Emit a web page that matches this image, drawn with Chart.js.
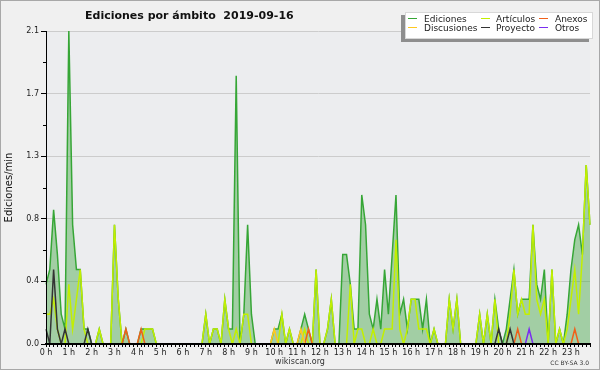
<!DOCTYPE html>
<html><head><meta charset="utf-8">
<script src="https://cdn.jsdelivr.net/npm/chart.js@4"></script>
<style>html,body{margin:0;padding:0;background:#f0f0f0}canvas{display:block}</style>
</head><body>
<canvas id="c" width="600" height="370"></canvas>
<script>
const titleText = 'Ediciones por ámbito  2019-09-16';
const yAxisTitle = 'Ediciones/min';
const hourLabels = ['0 h','1 h','2 h','3 h','4 h','5 h','6 h','7 h','8 h','9 h','10 h','11 h',
  '12 h','13 h','14 h','15 h','16 h','17 h','18 h','19 h','20 h','21 h','22 h','23 h'];
const yTickValues = [0, 0.42, 0.84, 1.26, 1.68, 2.1];
const seriesNames = ['Ediciones','Artículos','Anexos','Discusiones','Proyecto','Otros'];

// 10-minute slots, values in edits per minute
const ediciones = [
  0.4,0.5,0.9,0.6,0.2,0.1, 2.1,0.8,0.5,0.5,0.1,0.1,
  0,0,0.1,0,0,0, 0.8,0.3,0,0.1,0,0,
  0,0.1,0.1,0.1,0.1,0, 0,0,0,0,0,0,
  0,0,0,0,0,0, 0.2,0,0.1,0.1,0,0.3,
  0.1,0.1,1.8,0,0.2,0.8, 0.2,0,0,0,0,0,
  0.1,0.1,0.2,0,0.1,0, 0,0.1,0.2,0.1,0,0.5,
  0,0,0.1,0.3,0,0, 0.6,0.6,0.4,0.1,0.1,1.0,
  0.8,0.2,0.1,0.3,0.1,0.5, 0.2,0.6,1.0,0.2,0.3,0.1,
  0.3,0.3,0.3,0.1,0.3,0, 0.1,0,0,0,0.3,0.1,
  0.3,0,0,0,0,0, 0.2,0,0.2,0,0.3,0.1,
  0,0.1,0.3,0.5,0.2,0.3, 0.3,0.3,0.8,0.4,0.3,0.5,
  0,0.5,0,0.1,0,0.2, 0.5,0.7,0.8,0.6,1.2,0.8
];
const articulos = [
  0.2,0.2,0.3,0.1,0,0, 0.4,0.1,0.3,0.5,0.1,0,
  0,0,0.1,0,0,0, 0.8,0.3,0,0,0,0,
  0,0,0.1,0.1,0.1,0, 0,0,0,0,0,0,
  0,0,0,0,0,0, 0.2,0,0.1,0.1,0,0.3,
  0.1,0,0.1,0,0.2,0.2, 0,0,0,0,0,0,
  0,0,0.2,0,0.1,0, 0,0,0.1,0,0,0.5,
  0,0,0.1,0.3,0,0, 0,0,0.4,0,0.1,0.1,
  0,0,0.1,0,0,0.1, 0.1,0.1,0.7,0.1,0,0.1,
  0.3,0.3,0.1,0.1,0.1,0, 0.1,0,0,0,0.3,0.1,
  0.3,0,0,0,0,0, 0.2,0,0.2,0,0.3,0,
  0,0,0.2,0.5,0.2,0.3, 0.2,0.2,0.8,0.3,0.2,0.3,
  0,0.5,0,0.1,0,0.1, 0.3,0.5,0.2,0.6,1.2,0.8
];
const anexos = [
  0,0,0,0,0,0, 0,0,0,0,0,0,
  0,0,0,0,0,0, 0,0,0,0.1,0,0,
  0,0.1,0,0,0,0, 0,0,0,0,0,0,
  0,0,0,0,0,0, 0,0,0,0,0,0,
  0,0,0,0,0,0, 0,0,0,0,0,0,
  0,0,0,0,0,0, 0,0,0,0.1,0,0,
  0,0,0,0,0,0, 0,0,0,0,0,0,
  0,0,0,0,0,0, 0,0,0,0,0,0,
  0,0,0,0,0,0, 0,0,0,0,0,0,
  0,0,0,0,0,0, 0,0,0,0,0,0,
  0,0,0,0,0.1,0, 0,0,0,0,0,0,
  0,0,0,0,0,0, 0,0.1,0,0,0,0
];
const discusiones = [
  0,0,0,0,0,0, 0,0,0,0,0,0,
  0,0,0,0,0,0, 0,0,0,0,0,0,
  0,0,0,0,0,0, 0,0,0,0,0,0,
  0,0,0,0,0,0, 0,0,0,0,0,0,
  0,0,0,0,0,0, 0,0,0,0,0,0,
  0.1,0,0,0,0,0, 0,0.1,0,0,0,0,
  0,0,0,0,0,0, 0,0,0,0,0,0,
  0,0,0,0,0,0, 0,0,0,0,0,0,
  0,0,0,0,0,0, 0,0,0,0,0,0,
  0,0,0,0,0,0, 0,0,0,0,0,0,
  0,0,0,0,0,0, 0,0,0,0,0,0,
  0,0,0,0,0,0, 0,0,0,0,0,0
];
const proyecto = [
  0.1,0,0.5,0.1,0,0.1, 0,0,0,0,0,0.1,
  0,0,0,0,0,0, 0,0,0,0,0,0,
  0,0,0,0,0,0, 0,0,0,0,0,0,
  0,0,0,0,0,0, 0,0,0,0,0,0,
  0,0,0,0,0,0, 0,0,0,0,0,0,
  0,0,0,0,0,0, 0,0,0,0,0,0,
  0,0,0,0,0,0, 0,0,0,0,0,0,
  0,0,0,0,0,0, 0,0,0,0,0,0,
  0,0,0,0,0,0, 0,0,0,0,0,0,
  0,0,0,0,0,0, 0,0,0,0,0,0.1,
  0,0,0.1,0,0,0, 0,0,0,0,0,0,
  0,0,0,0,0,0, 0,0,0,0,0,0
];
const otros = [
  0,0,0,0,0,0, 0,0,0,0,0,0,
  0,0,0,0,0,0, 0,0,0,0,0,0,
  0,0,0,0,0,0, 0,0,0,0,0,0,
  0,0,0,0,0,0, 0,0,0,0,0,0,
  0,0,0,0,0,0, 0,0,0,0,0,0,
  0,0,0,0,0,0, 0,0,0,0,0,0,
  0,0,0,0,0,0, 0,0,0,0,0,0,
  0,0,0,0,0,0, 0,0,0,0,0,0,
  0,0,0,0,0,0, 0,0,0,0,0,0,
  0,0,0,0,0,0, 0,0,0,0,0,0,
  0,0,0,0,0,0, 0,0.1,0,0,0,0,
  0,0,0,0,0,0, 0,0,0,0,0,0
];

// category slots (one per 10 minutes)
const slots = [];
hourLabels.forEach(h => { for (let m = 0; m < 6; m++) slots.push(h + ':' + m + '0'); });

const colors = ['#36a636','#c2ef00','#f0601a','#ffc820','#333333','#7a2ef0'];
const seriesData = [ediciones, articulos, anexos, discusiones, proyecto, otros];

const FONT = '"DejaVu Sans", sans-serif';
Chart.defaults.font.family = FONT;
Chart.defaults.font.size = 8;
Chart.defaults.color = '#222';

const decor = {
  id: 'decor',
  beforeDraw(chart) {
    const {ctx, chartArea: a} = chart;
    ctx.save();
    ctx.fillStyle = '#f0f0f0';
    ctx.fillRect(0, 0, chart.width, chart.height);
    ctx.fillStyle = '#ecedef';
    ctx.fillRect(a.left, a.top, a.right - a.left, a.bottom - a.top);
    ctx.restore();
  },
  afterDraw(chart) {
    const ctx = chart.ctx;
    const ys = chart.scales.y;
    ctx.save();
    // minor ticks on y axis
    ctx.strokeStyle = '#000';
    ctx.lineWidth = 1;
    for (let k = 0; k < yTickValues.length - 1; k++) {
      const mid = (yTickValues[k] + yTickValues[k + 1]) / 2;
      const py = Math.round(ys.getPixelForValue(mid)) + 0.5;
      ctx.beginPath(); ctx.moveTo(ys.right - 3, py); ctx.lineTo(ys.right, py); ctx.stroke();
    }
    // title
    ctx.fillStyle = '#111';
    ctx.font = 'bold 11px ' + FONT;
    ctx.textAlign = 'left';
    ctx.textBaseline = 'alphabetic';
    ctx.fillText(titleText, 85, 18.5);
    // legend box with shadow
    ctx.fillStyle = '#8e8e8e';
    ctx.fillRect(401, 15, 188, 27);
    ctx.fillStyle = '#ffffff';
    ctx.fillRect(405, 12, 188, 27);
    ctx.strokeStyle = '#d8d8d8';
    ctx.strokeRect(405.5, 12.5, 187, 26);
    const cols = [[408, 424], [481, 496], [539, 555]];
    const rows = [22, 31];
    ctx.font = '9px ' + FONT;
    chart.data.datasets.forEach((ds, i) => {
      const c = cols[i % 3], r = rows[Math.floor(i / 3)];
      ctx.strokeStyle = ds.borderColor;
      ctx.lineWidth = 1;
      ctx.beginPath(); ctx.moveTo(c[0], r - 3.5); ctx.lineTo(c[0] + 9, r - 3.5); ctx.stroke();
      ctx.fillStyle = '#222';
      ctx.fillText(ds.label, c[1], r);
    });
    // footer
    ctx.fillStyle = '#333';
    ctx.font = '8px ' + FONT;
    ctx.textAlign = 'center';
    ctx.fillText('wikiscan.org', 300, 364);
    ctx.font = '6px ' + FONT;
    ctx.textAlign = 'right';
    ctx.fillText('CC BY-SA 3.0', 589, 365);
    // outer border
    ctx.strokeStyle = '#a8a8a8';
    ctx.lineWidth = 1;
    ctx.strokeRect(0.5, 0.5, chart.width - 1, chart.height - 1);
    ctx.restore();
  }
};

new Chart(document.getElementById('c'), {
  type: 'line',
  data: {
    labels: slots,
    datasets: seriesNames.map((name, i) => ({
      label: name,
      data: seriesData[i],
      borderColor: colors[i],
      backgroundColor: i === 0 ? 'rgba(60,165,60,0.42)' : colors[i],
      fill: i === 0 ? 'origin' : false,
      borderWidth: 1.5,
      pointRadius: 0,
      tension: 0,
      order: seriesNames.length - i
    }))
  },
  options: {
    responsive: false,
    animation: false,
    devicePixelRatio: 1,
    layout: { padding: { top: 31, right: 10, left: 0, bottom: 0 } },
    plugins: { legend: { display: false }, title: { display: false }, tooltip: { enabled: false } },
    scales: {
      x: {
        type: 'category',
        offset: false,
        grid: { display: true, drawOnChartArea: false, drawTicks: true, tickLength: 3, tickColor: '#000' },
        border: { display: true, color: '#000', width: 2, z: 1 },
        ticks: {
          autoSkip: false, maxRotation: 0, minRotation: 0, padding: 1,
          callback: (v, i) => (i % 6 === 0 ? hourLabels[i / 6] : '')
        },
        afterFit: s => { s.height = 26; }
      },
      y: {
        min: 0, max: 2.1,
        afterBuildTicks: s => { s.ticks = yTickValues.map(v => ({ value: v })); },
        grid: { color: '#cccccc', tickColor: '#000', tickLength: 5 },
        border: { color: '#000', width: 1, z: 1 },
        ticks: { padding: 2, callback: v => Number(v).toFixed(1) },
        title: { display: true, text: yAxisTitle, color: '#111', font: { size: 10 }, padding: { top: 3, bottom: 0 } },
        afterFit: s => { s.width = 46; }
      }
    }
  },
  plugins: [decor]
});
</script>
</body></html>
